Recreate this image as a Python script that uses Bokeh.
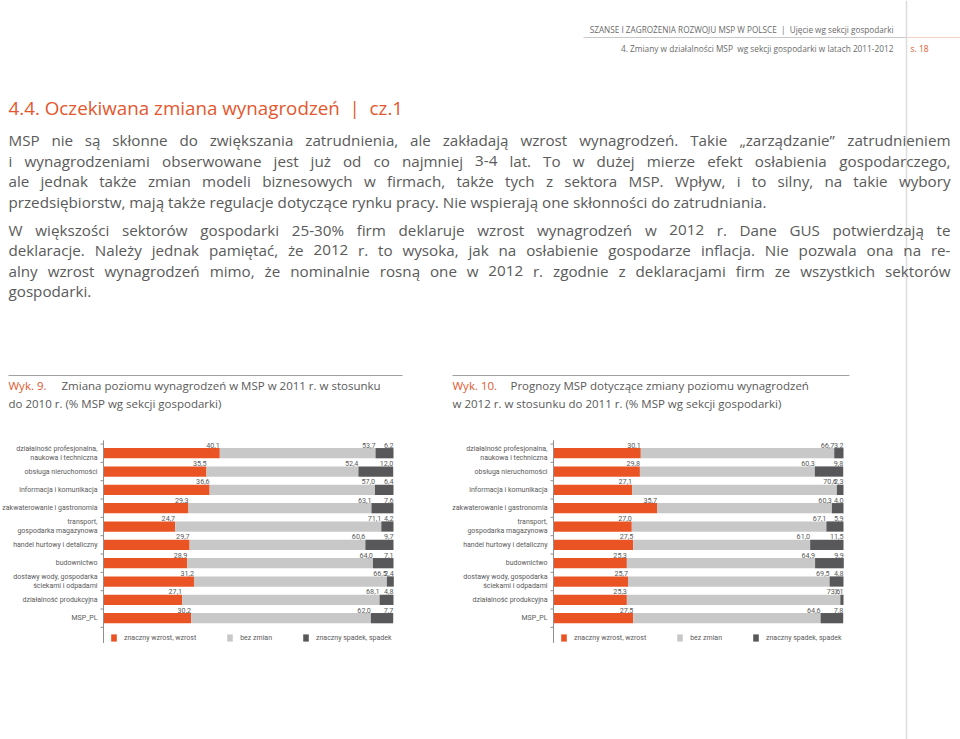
from bokeh.plotting import figure
from bokeh.models import ColumnDataSource, Range1d, Legend, LegendItem
from bokeh.embed import file_html
from bokeh.resources import INLINE
from bokeh.core.properties import value

# ---------------- data ----------------
categories = [
    "działalność profesjonalna, naukowa i techniczna",
    "obsługa nieruchomości",
    "informacja i komunikacja",
    "zakwaterowanie i gastronomia",
    "transport, gospodarka magazynowa",
    "handel hurtowy i detaliczny",
    "budownictwo",
    "dostawy wody, gospodarka ściekami i odpadami",
    "działalność produkcyjna",
    "MSP_PL",
]
category_labels = [
    "działalność profesjonalna,\nnaukowa i techniczna",
    "obsługa nieruchomości",
    "informacja i komunikacja",
    "zakwaterowanie i gastronomia",
    "transport,\ngospodarka magazynowa",
    "handel hurtowy i detaliczny",
    "budownictwo",
    "dostawy wody, gospodarka\nściekami i odpadami",
    "działalność produkcyjna",
    "MSP_PL",
]
series_names = ["znaczny wzrost, wzrost", "bez zmian", "znaczny spadek, spadek"]

# Wyk. 9 – 2011 vs 2010
wyk9_wzrost = [40.1, 35.5, 36.6, 29.3, 24.7, 29.7, 28.9, 31.2, 27.1, 30.2]
wyk9_bez_zmian = [53.7, 52.4, 57.0, 63.1, 71.1, 60.6, 64.0, 66.5, 68.1, 62.0]
wyk9_spadek = [6.2, 12.0, 6.4, 7.6, 4.2, 9.7, 7.1, 2.4, 4.8, 7.7]

# Wyk. 10 – 2012 vs 2011
wyk10_wzrost = [30.1, 29.8, 27.1, 35.7, 27.0, 27.5, 25.3, 25.7, 25.3, 27.5]
wyk10_bez_zmian = [66.7, 60.3, 70.6, 60.3, 67.1, 61.0, 64.9, 69.5, 73.6, 64.6]
wyk10_spadek = [3.2, 9.8, 2.3, 4.0, 5.9, 11.5, 9.9, 4.8, 1.1, 7.8]

# ---------------- style ----------------
RED = "#EA5323"
GRAY = "#C8C8C8"
DARK = "#58585A"
ORANGE = "#E4572E"
TXT = "#5a5a5a"
AXIS = "#8f8f8f"
BODY_FONT = "Open Sans"
SMALL_FONT = "Roboto"

# approximate Open Sans advance widths (em) used to spread justified lines
_W = dict(zip("abcdefghijklmnopqrstuvwxyz",
              [.556, .613, .476, .613, .561, .339, .548, .614, .253, .253, .525, .253, .93,
               .614, .604, .613, .613, .408, .477, .353, .614, .501, .778, .524, .502, .477]))
_W.update(dict(zip("ABCDEFGHIJKLMNOPQRSTUVWXYZ",
                   [.633, .647, .631, .72, .556, .521, .71, .738, .279, .267, .614, .524, .905,
                    .754, .779, .604, .779, .618, .549, .553, .733, .593, .925, .576, .556, .568])))
_W.update({c: .572 for c in "0123456789"})
_W.update({"ą": .556, "ć": .476, "ę": .561, "ł": .26, "ń": .614, "ó": .604, "ś": .477,
           "ź": .477, "ż": .477, ",": .258, ".": .267, "-": .322, "%": .82, "„": .397,
           "”": .397, "(": .296, ")": .296, " ": .26})


def est_width(s, size):
    return sum(_W.get(c, .56) for c in s) * size


# ---------------- page figure ----------------
PAGE_W, PAGE_H = 960, 739
p = figure(width=PAGE_W, height=PAGE_H, x_range=Range1d(0, PAGE_W), y_range=Range1d(PAGE_H, 0),
           toolbar_location=None, output_backend="svg", min_border=0,
           x_axis_location=None, y_axis_location=None, outline_line_color=None)
p.grid.visible = False


def T(x, y, s, size, color=TXT, align="left", font=BODY_FONT):
    p.text(x=[x], y=[y], text=[s], text_font=value(font),
           text_font_size=f"{size}px", text_color=color, text_align=align,
           text_baseline="middle")


def justified(x0, x1, y, s, size):
    words = s.split(" ")
    widths = [est_width(w, size) for w in words]
    gap = (x1 - x0 - sum(widths)) / (len(words) - 1)
    xs, cur = [], x0
    for w in widths:
        xs.append(cur + w / 2)
        cur += w + gap
    aligns = ["center"] * len(words)
    xs[0], aligns[0] = x0, "left"
    xs[-1], aligns[-1] = x1, "right"
    p.text(x=xs, y=[y] * len(words), text=words, text_font=value(BODY_FONT),
           text_font_size=f"{size}px", text_color=TXT, text_align=aligns,
           text_baseline="middle")


# header
T(893, 29, "SZANSE I ZAGROŻENIA ROZWOJU MSP W POLSCE\u00a0\u00a0|\u00a0\u00a0Ujęcie wg sekcji gospodarki", 8.2, "#6a6a6a", "right")
T(893, 48, "4. Zmiany w działalności MSP\u00a0\u00a0wg sekcji gospodarki w latach 2011-2012", 8.3, "#6a6a6a", "right")
T(910, 48, "s. 18", 8.5, ORANGE)
p.segment(x0=[583], y0=[37], x1=[906], y1=[37], line_color="#c8c8c8", line_width=1)
p.segment(x0=[906], y0=[37], x1=[960], y1=[37], line_color="#f3d2c4", line_width=1)
p.segment(x0=[906], y0=[0], x1=[906], y1=[PAGE_H], line_color="#dcdcdc", line_width=1.5)

# title
T(8, 107, "4.4. Oczekiwana zmiana wynagrodzeń\u00a0\u00a0|\u00a0\u00a0cz.1", 18.8, ORANGE)

# body
para1 = [
    "MSP nie są skłonne do zwiększania zatrudnienia, ale zakładają wzrost wynagrodzeń. Takie „zarządzanie” zatrudnieniem",
    "i wynagrodzeniami obserwowane jest już od co najmniej 3-4 lat. To w dużej mierze efekt osłabienia gospodarczego,",
    "ale jednak także zmian modeli biznesowych w firmach, także tych z sektora MSP. Wpływ, i to silny, na takie wybory",
    "przedsiębiorstw, mają także regulacje dotyczące rynku pracy. Nie wspierają one skłonności do zatrudniania.",
]
para2 = [
    "W większości sektorów gospodarki 25-30% firm deklaruje wzrost wynagrodzeń w 2012 r. Dane GUS potwierdzają te",
    "deklaracje. Należy jednak pamiętać, że 2012 r. to wysoka, jak na osłabienie gospodarze inflacja. Nie pozwala ona na re-",
    "alny wzrost wynagrodzeń mimo, że nominalnie rosną one w 2012 r. zgodnie z deklaracjami firm ze wszystkich sektorów",
    "gospodarki.",
]
BODY = 15.2
for paras, y0, dy in ((para1, 139.5, 20.5), (para2, 229, 20.6)):
    for i, s in enumerate(paras):
        y = y0 + i * dy
        if i < len(paras) - 1:
            justified(8, 950, y, s, BODY)
        else:
            T(8, y, s, BODY)

# captions
p.segment(x0=[8, 452], y0=[375, 375], x1=[402, 849], y1=[375, 375],
          line_color="#a0a0a0", line_width=1)
CAP = 11.5
T(8, 385, "Wyk. 9.", CAP, ORANGE)
T(61, 385, "Zmiana poziomu wynagrodzeń w MSP w 2011 r. w stosunku", CAP)
T(8, 403, "do 2010 r. (% MSP wg sekcji gospodarki)", CAP)
T(452, 385, "Wyk. 10.", CAP, ORANGE)
T(510, 385, "Prognozy MSP dotyczące zmiany poziomu wynagrodzeń", CAP)
T(452, 403, "w 2012 r. w stosunku do 2011 r. (% MSP wg sekcji gospodarki)", CAP)

# ---------------- bar charts (own scales via extra ranges) ----------------
PX_PER_PCT = 2.9          # 100 % = 290 px
BAND = 18.33              # px per category
Y_FIRST = 452.7           # page y of first category centre
# category k (1..n) sits at page y = Y_FIRST + (k-1)*BAND
y0_val = 1 - Y_FIRST / BAND
p.extra_y_ranges = {"cy": Range1d(y0_val + PAGE_H / BAND, y0_val)}

n = len(categories)
pos = list(range(1, n + 1))


def fmt(v):
    return f"{v:.1f}".replace(".", ",")


def chart(name, x_left_px, up, same, down, legend_x):
    p.extra_x_ranges[name] = Range1d(-x_left_px / PX_PER_PCT, (PAGE_W - x_left_px) / PX_PER_PCT)
    kw = dict(x_range_name=name, y_range_name="cy")
    a = list(up)
    ab = [u + s for u, s in zip(up, same)]
    tot = [u + s + d for u, s, d in zip(up, same, down)]
    src = ColumnDataSource(dict(y=pos, cat=categories, a=a, ab=ab, tot=tot))
    h = 0.56
    r1 = p.hbar(y="y", left=0, right="a", height=h, source=src, fill_color=RED, line_color=None, **kw)
    r2 = p.hbar(y="y", left="a", right="ab", height=h, source=src, fill_color=GRAY, line_color=None, **kw)
    r3 = p.hbar(y="y", left="ab", right="tot", height=h, source=src, fill_color=DARK, line_color=None, **kw)

    lsrc = ColumnDataSource(dict(
        y=pos * 3,
        x=a + ab + tot,
        lab=[fmt(v) for v in list(up) + list(same) + list(down)],
    ))
    p.text(x="x", y="y", text="lab", source=lsrc, text_align="right", text_baseline="middle",
           y_offset=-8, text_font=value(SMALL_FONT), text_font_size="7.2px", text_color=TXT, **kw)

    # value axis baseline with category boundary ticks
    tick = 3 / PX_PER_PCT
    p.segment(x0=[0], x1=[0], y0=[0.3], y1=[n + 1.35], line_color=AXIS, line_width=1, **kw)
    bounds = [k + 0.5 for k in range(n + 1)]
    p.segment(x0=[0] * len(bounds), x1=[-tick] * len(bounds), y0=bounds, y1=bounds,
              line_color=AXIS, line_width=1, **kw)
    # category labels
    p.text(x=[0] * n, y=pos, text=category_labels, x_offset=-6, text_align="right",
           text_baseline="middle", text_line_height=1.15, text_font=value(SMALL_FONT),
           text_font_size="7px", text_color=TXT, **kw)

    legend = Legend(items=[LegendItem(label=series_names[0], renderers=[r1]),
                           LegendItem(label=series_names[1], renderers=[r2]),
                           LegendItem(label=series_names[2], renderers=[r3])],
                    orientation="horizontal", location=(legend_x, PAGE_H - 642), padding=0, margin=0,
                    glyph_width=7, glyph_height=9, label_standoff=7, spacing=30,
                    label_height=9, label_text_font=SMALL_FONT, label_text_font_size="7px",
                    label_text_color=TXT, border_line_color=None, background_fill_alpha=0)
    p.add_layout(legend)


chart("c1", 103, wyk9_wzrost, wyk9_bez_zmian, wyk9_spadek, 110)
chart("c2", 553, wyk10_wzrost, wyk10_bez_zmian, wyk10_spadek, 560)

open("out.html", "w").write(file_html(p, INLINE))
